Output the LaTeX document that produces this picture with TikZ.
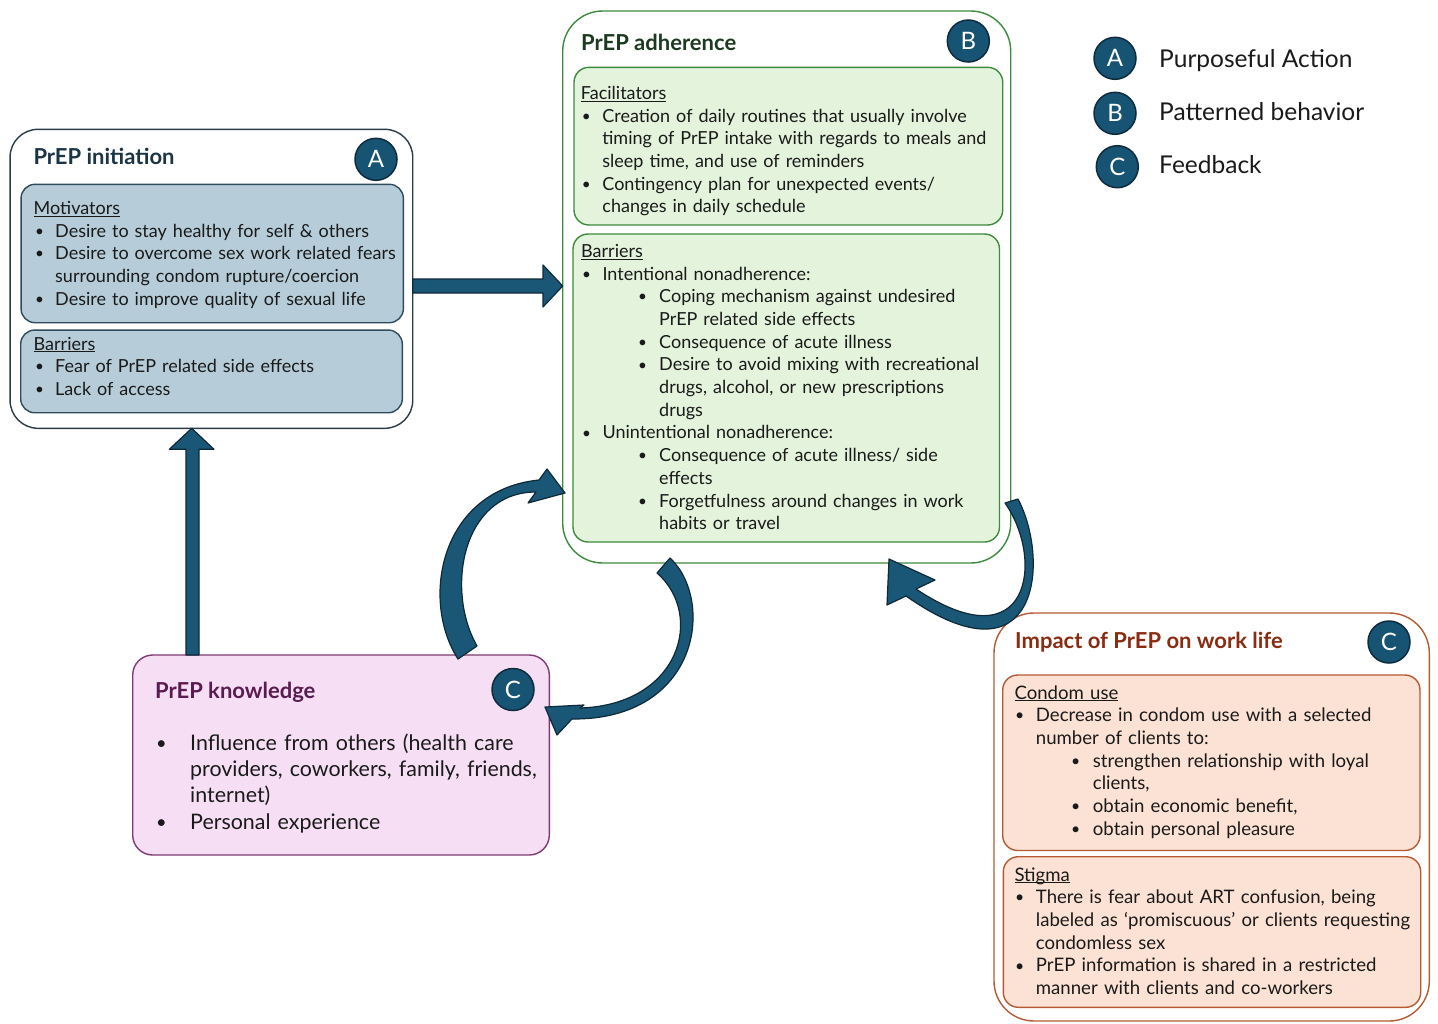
\documentclass[tikz,border=0pt]{standalone}
\usepackage{fontspec}
\setmainfont{Lato}
\definecolor{badgeC}{HTML}{175373}
\definecolor{badgeDark}{HTML}{0E2C3C}
\definecolor{arrowFill}{HTML}{1A5675}
\definecolor{arrowEdge}{HTML}{0E2A38}
\definecolor{txtC}{HTML}{1A1A1A}
\definecolor{aEdge}{HTML}{2A3C48}
\definecolor{aInEdge}{HTML}{2E4B5B}
\definecolor{aFill}{HTML}{B6CDD9}
\definecolor{aTitle}{HTML}{1B3446}
\definecolor{bEdge}{HTML}{3D8B3D}
\definecolor{bFill}{HTML}{E3F3DC}
\definecolor{bTitle}{HTML}{1C3A20}
\definecolor{kEdge}{HTML}{7E3B74}
\definecolor{kFill}{HTML}{F6DFF4}
\definecolor{kTitle}{HTML}{5A1B50}
\definecolor{iEdge}{HTML}{B65A33}
\definecolor{iFill}{HTML}{FBE2D4}
\definecolor{iTitle}{HTML}{8A2C12}
\newcommand{\nl}{\hfil\break}
\newlength{\ulwd}
\newcommand{\uln}[1]{\settowidth{\ulwd}{#1}\rlap{\rule[-2.2pt]{\ulwd}{0.9pt}}#1\par}
\newcommand{\bitem}[3]{\hangindent=#2pt\hangafter=1\noindent\makebox[#2pt][l]{\hspace*{#1pt}\raisebox{0.8pt}{\scalebox{0.85}{\textbullet}}}#3\par}
\begin{document}
\begin{tikzpicture}[x=1pt,y=-1pt,
  box/.style={rectangle, inner sep=0pt, outer sep=0pt, line width=1.4pt},
  outerA/.style={box, draw=aEdge, fill=white, rounded corners=28pt},
  innerA/.style={box, draw=aInEdge, fill=aFill, rounded corners=14pt},
  outerB/.style={box, draw=bEdge, fill=white, rounded corners=40pt},
  innerB/.style={box, draw=bEdge, fill=bFill, rounded corners=15pt},
  knbox/.style={box, draw=kEdge, fill=kFill, rounded corners=20pt},
  outerI/.style={box, draw=iEdge, fill=white, rounded corners=40pt},
  innerI/.style={box, draw=iEdge, fill=iFill, rounded corners=15pt},
  badge/.style={circle, fill=badgeC, draw=badgeDark, line width=1.5pt, minimum size=42pt, inner sep=0pt, text=white, font=\fontsize{24}{24}\selectfont},
  ttl/.style={anchor=base west, inner sep=0pt, font=\fontsize{22}{26}\selectfont\bfseries},
  blk/.style={anchor=base west, inner sep=0pt, text width=480pt, text=txtC, font=\fontsize{18}{22.7}\selectfont},
  legtxt/.style={anchor=base west, inner sep=0pt, text=txtC, font=\fontsize{24.5}{28}\selectfont},
  blockarrow/.style={fill=arrowFill, draw=arrowEdge, line width=1.2pt, line join=round},
]
\useasboundingbox (0,0) rectangle (1438,1023);
\fill[white] (0,0) rectangle (1438,1023);

% ---- PrEP initiation (A)
\node[outerA, minimum width=402.7pt, minimum height=299pt] (ini) at (211.4,278.8) {};
\node[innerA, minimum width=382.3pt, minimum height=138.4pt] (mot) at (212.2,253.5) {};
\node[innerA, minimum width=381.6pt, minimum height=82.7pt] (barA) at (211.5,371.4) {};
\node[badge] (bA) at (376,159.3) {A};
\node[ttl, text=aTitle] (iniT) at (33.3,164) {PrEP initiation};
\node[blk] (motT) at (33.5,214.3) {\uln{Motivators}
\bitem{1.5}{21.5}{Desire to stay healthy for self \& others}
\bitem{1.5}{21.5}{Desire to overcome sex work related fears\nl surrounding condom rupture/coercion}
\bitem{1.5}{21.5}{Desire to improve quality of sexual life}};
\node[blk] (barAT) at (33.5,350) {\uln{Barriers}
\bitem{1.5}{21.5}{Fear of PrEP related side effects}
\bitem{1.5}{21.5}{Lack of access}};

% ---- PrEP adherence (B)
\node[outerB, minimum width=448pt, minimum height=552pt] (adh) at (786.7,287) {};
\node[innerB, minimum width=428.7pt, minimum height=157.7pt] (fac) at (788.35,146.15) {};
\node[innerB, minimum width=426.5pt, minimum height=308pt] (barB) at (786.25,388) {};
\node[badge] (bB) at (968.3,41) {B};
\node[ttl, text=bTitle] (adhT) at (581,50) {PrEP adherence};
\node[blk] (facT) at (580.7,99.3) {\uln{Facilitators}
\bitem{1}{21.5}{Creation of daily routines that usually involve\nl timing of PrEP intake with regards to meals and\nl sleep time, and use of reminders}
\bitem{1}{21.5}{Contingency plan for unexpected events/\nl changes in daily schedule}};
\node[blk] (barBT) at (581,257.3) {\uln{Barriers}
\bitem{1}{21.3}{Intentional nonadherence:}
\bitem{57}{78}{Coping mechanism against undesired\nl PrEP related side effects}
\bitem{57}{78}{Consequence of acute illness}
\bitem{57}{78}{Desire to avoid mixing with recreational\nl drugs, alcohol, or new prescriptions\nl drugs}
\bitem{1}{21.3}{Unintentional nonadherence:}
\bitem{57}{78}{Consequence of acute illness/ side\nl effects}
\bitem{57}{78}{Forgetfulness around changes in work\nl habits or travel}};

% ---- Legend
\node[badge] (lA) at (1115,58.3) {A};
\node[badge] (lB) at (1115,113.3) {B};
\node[badge] (lC) at (1117.3,166.7) {C};
\node[legtxt] (lAT) at (1159,67.3) {Purposeful Action};
\node[legtxt] (lBT) at (1159,120.7) {Patterned behavior};
\node[legtxt] (lCT) at (1159,173.3) {Feedback};

% ---- PrEP knowledge (C)
\node[knbox, minimum width=416.6pt, minimum height=200pt] (kn) at (341,755) {};
\node[badge] (bK) at (513,689.5) {C};
\node[ttl, text=kTitle] (knT) at (155,698.3) {PrEP knowledge};
\node[blk, font=\fontsize{21.4}{26.4}\selectfont] (knB) at (155,750) {%
\bitem{1}{35}{Influence from others (health care\nl providers, coworkers, family, friends,\nl internet)}
\bitem{1}{35}{Personal experience}};

% ---- Impact of PrEP on work life (C)
\node[outerI, minimum width=435.3pt, minimum height=408pt] (imp) at (1211.65,817) {};
\node[innerI, minimum width=417.3pt, minimum height=175.5pt] (con) at (1211.35,762.75) {};
\node[innerI, minimum width=417.4pt, minimum height=150.6pt] (sti) at (1212,932) {};
\node[badge] (bI) at (1389,642) {C};
\node[ttl, text=iTitle] (impT) at (1015,648.3) {Impact of PrEP on work life};
\node[blk, font=\fontsize{18.6}{22.7}\selectfont] (conT) at (1014.3,699) {\uln{Condom use}
\bitem{0.5}{21.4}{Decrease in condom use with a selected\nl number of clients to:}
\bitem{56.5}{78.4}{strengthen relationship with loyal\nl clients,}
\bitem{56.5}{78.4}{obtain economic benefit,}
\bitem{56.5}{78.4}{obtain personal pleasure}};
\node[blk, font=\fontsize{18.6}{22.7}\selectfont] (stiT) at (1014.3,881) {\uln{Stigma}
\bitem{0.5}{21.4}{There is fear about ART confusion, being\nl labeled as ‘promiscuous’ or clients requesting\nl condomless sex}
\bitem{0.5}{21.4}{PrEP information is shared in a restricted\nl manner with clients and co-workers}};

% ---- Straight block arrows
\draw[blockarrow] (ini.east |- 0,279) -- (543,279) -- (543,265) -- (adh.west |- 0,286) -- (543,307) -- (543,293) -- (ini.east |- 0,293) -- cycle;
\draw[blockarrow] (186,0 |- kn.north) -- (186,449.3) -- (169.3,449.3) -- (191.7,0 |- ini.south) -- (214,449.3) -- (199,449.3) -- (199,0 |- kn.north) -- cycle;

% ---- Curved block arrows
\draw[blockarrow] (458,659) .. controls (420,600) and (440,490) .. (539,480) -- (547,469) -- (565,493) -- (528,503) -- (536,492) .. controls (462,492) and (445,590) .. (477,646) -- cycle;
\draw[blockarrow] (670,558) .. controls (715,600) and (700,720) .. (572,719) -- (557,735) -- (545,707) -- (584,705) -- (580,708) .. controls (680,705) and (705,615) .. (657,573) -- cycle;
\draw[blockarrow] (1018,499) .. controls (1050,560) and (1040,690) .. (906,596) -- (887,605) -- (889,559) -- (935,580) -- (916,589) .. controls (1030,665) and (1045,560) .. (1005,503) -- cycle;
\end{tikzpicture}
\end{document}
